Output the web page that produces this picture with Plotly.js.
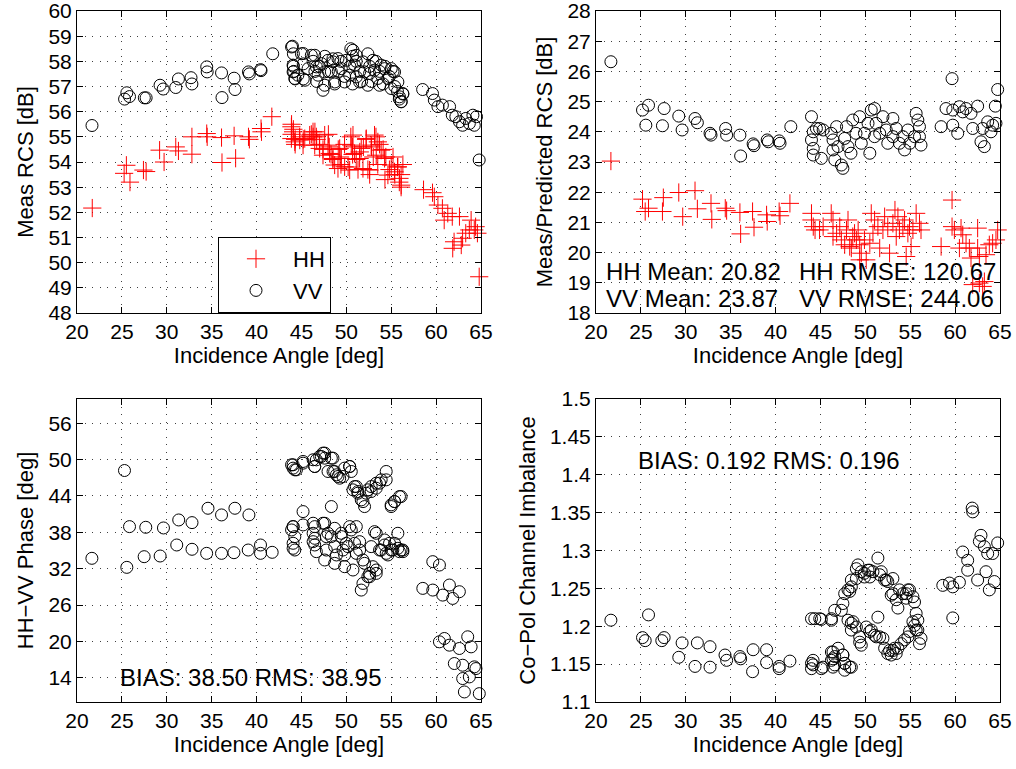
<!DOCTYPE html>
<html>
<head>
<meta charset="utf-8">
<script src="https://cdn.plot.ly/plotly-3.0.1.min.js"></script>
<style>html,body{margin:0;padding:0;background:#fff}#chart{width:1016px;height:769px}</style>
</head>
<body>
<div id="chart"></div>
<script>
// ---------- data ----------
const angleTicks = [20, 25, 30, 35, 40, 45, 50, 55, 60, 65];
const rcsTicks = [48, 49, 50, 51, 52, 53, 54, 55, 56, 57, 58, 59, 60];
const ratioTicks = [18, 19, 20, 21, 22, 23, 24, 25, 26, 27, 28];

// Panel 1: Meas RCS [dB]
const rcsHHx = [21.7,25.5,25.25,25.9,27.4,27.7,29.2,29.7,31.0,31.3,32.8,32.8,34.45,34.5,36.1,36.15,37.5,37.67,39.1,39.2,40.5,40.55,41.7,
 43.9,44.1,43.9,44.3,44.3,44.8,45.2,46.1,46.3,46.5,46.7,47.0,47.4,48.0,48.1,48.3,48.5,49.1,49.3,49.4,49.8,50.2,50.5,50.7,50.7,51.1,51.3,51.5,51.9,52.2,52.4,52.6,52.8,53.0,53.3,53.5,53.7,54.1,54.3,54.4,54.8,55.2,55.4,55.7,55.9,56.1,56.1,56.3,
 43.88,44.07,43.88,44.26,44.81,45.37,46.29,46.66,46.48,47.03,47.59,47.96,48.14,48.51,48.7,49.26,49.44,49.81,50.74,50.55,50.92,51.48,51.66,52.22,52.77,53.14,53.51,53.33,53.88,54.26,54.63,55.0,55.37,55.74,55.92,56.11,51.85,52.59,50.37,49.07,47.4,45.92,45.18,
 58.6,59.6,59.8,60.2,60.7,61.3,60.9,61.8,62.6,62.0,61.85,62.8,62.95,63.3,63.7,63.9,64.25,64.4,64.6,64.8];
const rcsHHy = [52.17,53.87,53.55,53.2,53.68,53.62,54.47,54.0,54.6,54.44,55.0,54.31,55.13,55.0,54.97,53.98,55.04,54.15,55.0,54.9,55.33,55.2,55.8,
 55.5,55.3,55.1,54.9,54.7,55.0,54.9,55.1,55.0,55.2,54.9,54.7,54.5,55.1,54.6,54.3,54.1,54.5,54.2,53.9,54.7,53.8,55.0,54.6,54.3,54.1,53.7,54.4,54.6,54.9,53.7,53.5,54.6,54.2,55.0,53.9,54.7,54.5,53.3,54.2,53.7,54.2,53.5,53.8,53.2,53.5,53.0,53.9,
 55.4,55.2,54.93,54.8,54.87,54.93,55.2,55.0,54.67,54.54,55.07,54.67,54.34,54.14,53.88,54.54,54.14,53.81,55.07,54.67,54.34,54.14,54.54,54.93,54.67,55.07,54.8,54.27,54.47,54.14,53.48,53.88,53.61,53.81,53.35,53.08,53.74,53.68,53.68,53.74,54.27,55.07,54.67,
 52.9,52.78,52.62,52.29,52.16,51.96,51.69,51.83,51.83,50.83,50.57,50.7,50.97,51.17,51.3,51.69,51.3,51.43,51.17,49.44];
const rcsVVx = [21.67,25.3,25.55,25.85,27.5,27.7,29.25,29.6,31.0,31.3,32.7,32.8,34.45,34.5,36.1,36.15,37.5,37.6,39.1,39.2,40.45,40.5,41.8,
 44.0,44.1,45.0,44.1,44.15,44.3,45.2,45.2,46.3,46.5,46.7,47.4,47.0,47.6,48.0,48.5,48.7,49.1,49.4,49.8,50.5,50.7,50.4,50.7,51.1,51.5,51.7,52.4,52.6,52.8,53.3,53.7,54.1,54.3,54.8,55.2,55.4,55.7,55.9,56.1,56.3,
 43.9,45.2,44.07,44.07,44.26,45.4,46.48,46.66,46.85,47.59,47.22,47.96,48.33,48.7,49.07,49.44,49.81,50.74,51.11,50.92,51.11,51.85,52.03,52.4,52.96,53.14,53.51,54.26,54.63,55.0,55.37,55.74,55.92,56.11,56.29,44.6,45.74,46.1,47.59,48.5,50.0,50.37,51.48,52.59,53.88,55.0,53.7,
 58.5,59.6,59.8,60.2,60.7,61.5,61.8,62.2,62.6,62.95,63.3,63.7,64.1,64.25,64.5,64.8];
const rcsVVy = [55.45,56.5,56.75,56.6,56.55,56.55,57.05,56.9,56.96,57.3,57.35,57.1,57.78,57.58,57.54,56.56,57.33,56.88,57.58,57.5,57.67,57.63,58.3,
 58.6,58.3,58.3,57.8,57.6,57.3,57.3,57.9,58.0,57.6,57.2,56.85,57.8,58.2,57.6,58.1,57.1,57.6,58.0,57.4,58.5,58.2,57.8,57.1,58.0,57.6,57.2,58.3,57.8,57.2,58.0,57.6,57.1,57.8,57.4,57.6,57.0,56.8,56.5,56.4,56.7,
 58.57,58.31,57.85,57.58,57.32,57.25,58.24,57.78,57.45,57.05,57.91,58.04,57.58,57.18,58.11,57.71,57.18,58.44,58.24,57.85,57.38,57.98,57.58,57.05,58.04,57.65,57.32,57.71,57.32,56.92,57.58,57.18,56.59,56.39,56.72,57.45,57.71,58.24,57.58,57.98,58.04,57.45,57.18,57.52,57.85,57.71,57.05,
 56.88,56.72,56.46,56.2,56.26,56.2,55.86,55.8,55.6,55.46,55.73,55.53,55.86,55.46,55.8,54.08];

// Panel 2: Meas/Predicted RCS [dB]
const ratioHHx = [21.66,25.18,25.48,25.85,27.5,27.4,29.22,29.66,31.03,31.29,32.81,32.9,34.4,34.55,36.03,36.11,37.44,37.6,39.0,39.07,40.4,40.5,41.6,
 44.0,44.0,44.2,44.4,44.9,45.3,46.2,46.4,46.4,46.8,47.15,47.33,47.7,47.9,48.07,48.26,48.6,48.8,49.2,49.37,49.55,49.9,50.1,50.5,50.66,50.85,51.03,51.4,51.6,51.96,52.15,52.5,52.7,53.07,53.3,53.44,53.63,53.8,54.18,54.37,54.74,54.92,55.1,55.3,55.66,56.03,56.2,54.55,49.37,48.44,49.0,
 59.66,59.66,59.92,60.66,60.85,58.44,62.51,61.22,61.59,60.48,61.77,62.51,62.7,63.44,63.81,64.18,64.55,64.74,61.96,62.7,63.26,63.07];
const ratioHHy = [23.03,21.77,21.36,21.47,21.82,21.36,21.99,21.19,22.05,21.45,21.63,21.1,21.47,21.39,21.33,20.62,21.36,20.84,21.25,21.03,21.36,21.22,21.63,
 21.3,21.08,20.86,20.75,20.75,20.86,21.3,21.08,20.53,20.64,20.86,20.42,20.26,20.75,21.08,20.2,20.53,20.64,20.75,20.26,19.98,20.42,19.76,20.31,21.3,20.64,21.08,20.86,20.15,20.75,21.19,20.86,19.98,20.97,21.41,20.53,21.19,20.75,20.86,21.08,20.64,20.86,20.2,20.75,21.3,20.97,20.75,19.87,19.76,20.15,20.42,
 21.74,20.86,20.75,20.81,20.59,20.2,20.81,20.31,20.15,20.15,19.82,20.15,19.87,19.93,20.26,20.31,20.42,20.75,18.94,18.99,19.04,18.88];
const ratioVVx = [21.66,25.18,25.85,25.55,27.59,27.4,29.22,29.59,31.03,31.29,32.7,32.81,34.44,34.55,36.03,36.11,37.5,37.6,39.07,39.2,40.4,40.5,41.7,
 44.0,44.0,44.2,44.2,44.2,44.55,44.9,45.1,45.3,46.2,46.4,46.4,46.6,46.8,46.96,47.33,47.5,47.7,47.9,48.07,48.4,48.6,48.96,49.37,49.55,49.9,50.3,50.5,50.66,51.03,51.03,51.2,51.6,51.96,52.33,52.5,53.07,53.07,53.44,53.8,54.18,54.37,54.74,54.96,55.48,55.66,55.85,56.03,56.2,56.03,
 59.66,58.99,58.44,59.74,59.74,60.29,60.48,60.85,61.22,61.77,61.96,62.51,62.88,63.26,63.07,63.63,64.0,64.18,64.48,64.74,64.55];
const ratioVVy = [26.32,24.72,24.88,24.22,24.77,24.2,24.52,24.06,24.44,24.3,23.95,23.89,24.11,23.89,23.89,23.2,23.6,23.54,23.73,23.67,23.7,23.62,24.17,
 24.5,23.73,23.45,23.23,24.0,24.11,24.11,23.12,24.06,23.95,23.73,23.4,23.07,24.17,23.51,22.9,22.79,23.78,24.17,23.51,23.29,24.39,23.95,24.5,23.62,23.95,24.28,23.29,24.72,24.77,23.84,24.28,23.95,24.5,24.06,23.62,24.44,23.84,24.11,23.62,23.84,23.4,24.06,23.62,23.84,24.61,24.39,24.17,23.56,23.84,
 25.76,24.77,24.17,24.72,24.22,23.95,24.83,24.66,24.77,24.61,24.11,24.85,23.67,23.51,24.11,24.33,24.0,24.22,24.85,25.4,24.28];

// Panel 3: HH-VV Phase [deg]
const phaseX = [21.66,25.29,25.55,25.85,27.66,27.48,29.26,29.63,31.11,31.33,32.81,32.81,34.44,34.59,36.1,36.1,37.48,37.59,39.07,39.15,40.44,40.44,41.74,
 44.07,43.9,44.44,45.18,46.3,46.48,47.03,47.4,47.59,48.33,47.96,48.52,48.9,49.26,49.63,50.37,50.55,50.74,51.11,51.29,52.03,51.66,52.4,52.77,53.33,53.7,54.44,54.44,54.99,55.37,56.1,
 44.07,43.9,44.07,44.07,44.26,45.18,45.18,46.3,46.3,46.3,46.48,47.4,47.59,48.33,47.96,48.33,48.7,48.9,49.44,49.63,50.37,50.18,50.74,50.92,51.48,51.66,51.85,51.85,52.4,52.59,52.77,53.33,53.33,53.88,54.26,54.44,54.81,55.18,55.74,55.74,56.1,56.3,
 44.07,44.26,45.18,46.48,46.66,47.22,47.59,48.51,48.7,49.07,49.81,50.37,50.92,51.29,51.85,52.22,52.77,53.33,53.88,55.0,55.37,55.92,
 44.07,44.26,46.48,46.48,46.66,47.59,47.77,47.77,48.7,48.7,49.44,49.81,50.0,50.55,51.11,51.48,52.03,52.59,53.14,53.33,53.7,54.26,54.63,55.0,55.37,55.92,56.29,51.11,49.81,52.96,
 59.63,60.37,58.52,59.63,60.74,61.48,61.85,62.59,60.37,60.92,61.48,62.59,63.52,63.9,62.03,62.96,64.26,62.96,63.7,63.15,64.81,64.44];
const phaseY = [33.71,48.2,32.22,38.94,38.83,33.98,34.09,38.72,35.91,40.04,35.2,39.6,34.53,41.97,34.53,40.87,34.64,41.97,35.08,40.87,35.91,34.53,34.7,
 48.59,49.14,48.31,49.69,49.97,48.86,50.52,51.07,50.24,50.24,48.04,48.04,47.49,46.93,47.21,48.86,48.04,45.01,45.56,44.45,42.25,43.35,45.01,44.73,45.28,46.11,48.04,46.66,42.53,43.08,43.9,
 38.94,38.39,36.19,35.36,35.08,41.42,39.22,39.5,37.84,36.46,35.91,39.5,33.43,42.25,37.84,37.29,35.64,34.26,37.84,35.08,38.94,35.64,31.78,36.19,35.08,28.47,29.57,33.43,30.68,31.23,35.64,37.84,31.78,35.08,36.74,34.53,36.19,35.08,37.84,35.36,35.08,34.81,
 49.14,48.31,49.41,48.86,49.96,50.51,51.07,50.24,48.03,47.21,48.59,48.86,45.55,44.73,43.07,44.45,45.55,46.1,46.66,42.25,43.07,43.9,
 38.94,37.29,38.94,37.01,34.81,39.49,37.29,35.08,38.66,32.88,37.29,34.26,36.18,38.39,34.53,36.46,32.88,30.67,38.11,31.22,35.08,35.91,34.26,35.08,36.18,34.81,35.08,38.94,32.33,32.33,
 33.16,32.6,28.75,28.47,27.64,29.3,27.09,28.2,19.93,20.48,19.38,18.83,20.76,19.1,16.35,16.07,15.8,13.87,14.14,11.66,11.38,15.52];

// Panel 4: Co-Pol Channel Imbalance
const imbX = [21.66,25.18,25.48,25.85,27.33,27.59,29.22,29.59,31.03,31.29,32.7,32.7,34.37,34.55,36.03,36.11,37.44,37.5,39.0,39.0,40.4,40.4,41.6,
 44.0,44.0,44.18,44.18,45.1,46.22,46.22,46.4,46.59,46.96,47.5,47.7,48.26,47.7,45.29,46.4,46.4,46.59,47.5,47.7,48.44,
 44.0,44.37,45.1,46.22,46.59,47.33,47.5,47.7,48.26,48.44,49.0,49.18,49.55,49.9,50.3,50.5,50.85,51.4,51.6,52.15,52.5,53.07,53.07,53.44,53.63,54.18,54.55,54.74,55.3,55.48,
 44.92,46.22,48.07,48.44,49.0,49.9,50.48,51.77,52.33,52.88,53.81,54.55,54.92,
 48.07,48.44,48.44,49.0,49.37,49.55,50.1,50.48,51.03,51.4,51.6,51.96,52.15,52.5,52.88,53.07,53.44,53.63,54.0,54.37,54.74,54.92,55.48,55.66,55.85,56.03,56.2,55.85,
 48.63,49.37,50.66,51.22,52.7,53.25,55.3,55.66,
 58.63,59.37,59.74,60.48,59.74,60.85,61.4,61.4,61.96,61.9,62.51,62.7,62.88,63.26,63.44,63.63,63.81,64.18,64.37,64.74];
const imbY = [1.208,1.185,1.181,1.215,1.181,1.185,1.159,1.178,1.147,1.178,1.146,1.173,1.162,1.155,1.160,1.157,1.140,1.169,1.169,1.152,1.147,1.144,1.154,
 1.151,1.144,1.155,1.149,1.144,1.166,1.155,1.146,1.160,1.171,1.162,1.151,1.146,1.142,1.146,1.166,1.157,1.149,1.162,1.151,1.146,
 1.210,1.210,1.209,1.208,1.221,1.221,1.230,1.243,1.246,1.252,1.263,1.281,1.272,1.270,1.274,1.265,1.272,1.290,1.268,1.261,1.259,1.263,1.243,1.235,1.224,1.243,1.237,1.248,1.239,1.232,
 1.210,1.210,1.248,1.261,1.276,1.265,1.274,1.272,1.261,1.241,1.248,1.243,1.248,
 1.208,1.204,1.195,1.199,1.186,1.175,1.199,1.193,1.188,1.212,1.186,1.184,1.171,1.164,1.162,1.168,1.164,1.171,1.177,1.182,1.186,1.193,1.201,1.217,1.208,1.177,1.184,1.195,
 1.206,1.179,1.195,1.186,1.168,1.171,1.206,1.195,
 1.254,1.257,1.252,1.258,1.211,1.298,1.287,1.274,1.351,1.356,1.261,1.312,1.320,1.305,1.272,1.296,1.248,1.296,1.259,1.310];

const imbTicks = [1.1,1.15,1.2,1.25,1.3,1.35,1.4,1.45,1.5];
const imbTickText = ['1.1','1.15','1.2','1.25','1.3','1.35','1.4','1.45','1.5'];
const phaseTicks = [14,20,26,32,38,44,50,56];

// ---------- styling ----------
const FONT = '"Liberation Sans", Arial, Helvetica, sans-serif';
const W = 1016, H = 769;
const HHmarker = {symbol:'cross-thin-open', size:13, color:'#ff0000', line:{color:'#ff0000', width:1}};
const VVmarker = {symbol:'circle-open', size:12, color:'#000000', line:{color:'#000000', width:1}};

function scat(x, y, xa, ya, marker, name, showlegend){
  return {type:'scatter', mode:'markers', x:x, y:y, xaxis:xa, yaxis:ya,
          marker:marker, name:name, showlegend:showlegend, cliponaxis:false, hoverinfo:'x+y'};
}

const traces = [
  scat(rcsHHx, rcsHHy, 'x', 'y', HHmarker, 'HH', true),
  scat(rcsVVx, rcsVVy, 'x', 'y', VVmarker, 'VV', true),
  scat(ratioHHx, ratioHHy, 'x2', 'y2', HHmarker, 'HH', false),
  scat(ratioVVx, ratioVVy, 'x2', 'y2', VVmarker, 'VV', false),
  scat(phaseX, phaseY, 'x3', 'y3', VVmarker, 'Phase', false),
  scat(imbX, imbY, 'x4', 'y4', VVmarker, 'Imbalance', false)
];

function baseAxis(extra){
  return Object.assign({
    showline:true, linecolor:'#000', linewidth:1, mirror:'ticks',
    ticks:'inside', ticklen:6, tickcolor:'#000', tickwidth:1,
    showgrid:true, gridcolor:'rgba(0,0,0,0.75)', gridwidth:1, griddash:'1px,6.5px',
    zeroline:false, fixedrange:true, ticklabeloverflow:'allow',
    tickfont:{family:FONT, size:21, color:'#000'}
  }, extra);
}
function xAxis(dom, anchor){
  return baseAxis({domain:dom, anchor:anchor, range:[20,65], tickvals:angleTicks,
    title:{text:'Incidence Angle [deg]', font:{family:FONT, size:22, color:'#000'}, standoff:4}});
}
function yAxis(dom, anchor, range, title, extra){
  return baseAxis(Object.assign({domain:dom, anchor:anchor, range:range,
    title:{text:title, font:{family:FONT, size:22, color:'#000'}, standoff:8}}, extra||{}));
}
const xL = [77/W, 481/W], xR = [596/W, 1000/W];
const yT = [1-313/H, 1-11/H], yB = [1-702/H, 1-399/H];

function ann(text, px, py){
  return {text:text, x:px/W, y:1-py/H, xref:'paper', yref:'paper', xanchor:'left', yanchor:'middle',
          showarrow:false, font:{family:FONT, size:24, color:'#000'}};
}

const layout = {
  width:W, height:H, paper_bgcolor:'#fff', plot_bgcolor:'#fff',
  margin:{l:0, r:0, t:0, b:0},
  font:{family:FONT, color:'#000'},
  xaxis: xAxis(xL, 'y'),
  yaxis: yAxis(yT, 'x', [48,60], 'Meas RCS [dB]', {tickvals:rcsTicks}),
  xaxis2: xAxis(xR, 'y2'),
  yaxis2: yAxis(yT, 'x2', [18,28], 'Meas/Predicted RCS [dB]', {tickvals:ratioTicks}),
  xaxis3: xAxis(xL, 'y3'),
  yaxis3: yAxis(yB, 'x3', [10,60], 'HH−VV Phase [deg]', {tickvals:phaseTicks}),
  xaxis4: xAxis(xR, 'y4'),
  yaxis4: yAxis(yB, 'x4', [1.1,1.5], 'Co−Pol Channel Imbalance', {tickvals:imbTicks, ticktext:imbTickText}),
  showlegend:true,
  legend:{x:218/W, y:1-237/H, xanchor:'left', yanchor:'top', bgcolor:'#fff', bordercolor:'#000', borderwidth:1,
          font:{family:FONT, size:22, color:'#000'}, itemwidth:64, tracegroupgap:0},
  annotations:[
    ann('HH Mean: 20.82', 604, 271),
    ann('HH RMSE: 120.67', 797, 271),
    ann('VV Mean: 23.87', 604, 298),
    ann('VV RMSE: 244.06', 797, 298),
    ann('BIAS: 38.50 RMS: 38.95', 118, 677),
    ann('BIAS: 0.192 RMS: 0.196', 636, 460)
  ]
};

Plotly.newPlot('chart', traces, layout, {displayModeBar:false, staticPlot:true});
</script>
</body>
</html>
